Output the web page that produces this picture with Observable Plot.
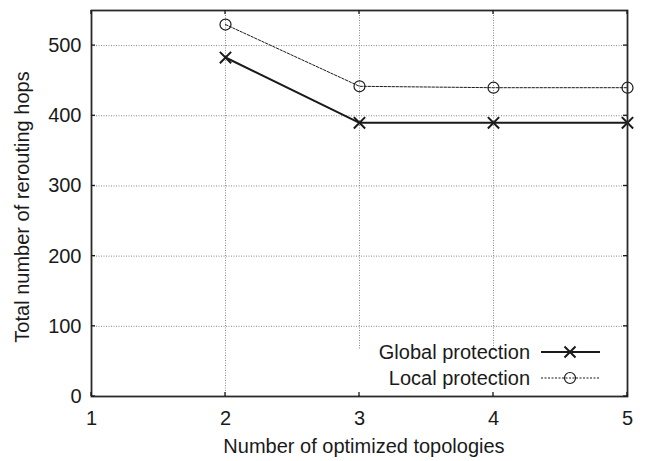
<!DOCTYPE html>
<html>
<head>
<meta charset="utf-8">
<script src="https://cdn.jsdelivr.net/npm/d3@7"></script>
<script src="https://cdn.jsdelivr.net/npm/@observablehq/plot@0.6"></script>
<style>
  html, body { margin: 0; padding: 0; background: #fff; }
  #chart { width: 648px; height: 461px; }
</style>
</head>
<body>
<div id="chart"></div>
<script>
// ---- data ----
const topologies = [2, 3, 4, 5];
const globalHops = [483, 390, 390, 390];
const localHops = [530, 442, 440, 440];
const seriesNames = ["Global protection", "Local protection"];
const xTicks = [1, 2, 3, 4, 5];
const yTicks = [0, 100, 200, 300, 400, 500];
const xGrid = [2, 3, 4];
const yGrid = [100, 200, 300, 400, 500];
const xTitle = "Number of optimized topologies";
const yTitle = "Total number of rerouting hops";

const globalData = topologies.map((t, i) => ({x: t, y: globalHops[i]}));
const localData = topologies.map((t, i) => ({x: t, y: localHops[i]}));

const FONT = "'Liberation Sans', Arial, Helvetica, sans-serif";
const INK = "#1a1a1a";

function sc(s) { return typeof s === "function" ? s : (s && s.apply ? s.apply : (v => v)); }

// legend drawn in a custom render mark
function legendMark(index, scales, values, dim) {
  const W = dim.width, H = dim.height;
  const R = W - dim.marginRight, B = H - dim.marginBottom;
  const g = d3.create("svg:g");
  g.append("rect").attr("x", R - 270).attr("y", B - 46).attr("width", 268).attr("height", 44).attr("fill", "#fff");
  const rows = [
    {name: seriesNames[0], dash: null, w: 2, sym: "times"},
    {name: seriesNames[1], dash: "2,1.5", w: 1, sym: "circle"}
  ];
  rows.forEach((r, i) => {
    const cy = B - 44 + i * 26;
    g.append("text").attr("x", R - 97).attr("y", cy).attr("dy", "0.35em")
      .attr("text-anchor", "end").attr("font-family", FONT).attr("font-size", 20).attr("fill", INK).text(r.name);
    g.append("line").attr("x1", R - 86).attr("x2", R - 27).attr("y1", cy).attr("y2", cy)
      .attr("stroke", INK).attr("stroke-width", r.w).attr("stroke-dasharray", r.dash);
    const mx = R - 57;
    if (r.sym === "times") {
      g.append("path").attr("d", `M${mx-5.5},${cy-5.5}L${mx+5.5},${cy+5.5}M${mx-5.5},${cy+5.5}L${mx+5.5},${cy-5.5}`)
        .attr("stroke", INK).attr("stroke-width", 2).attr("fill", "none");
    } else {
      g.append("circle").attr("cx", mx).attr("cy", cy).attr("r", 5.5).attr("stroke", INK).attr("stroke-width", 1.2).attr("fill", "none");
    }
  });
  return g.node();
}

function titlesAndTicks(index, scales, values, dim) {
  const W = dim.width, H = dim.height;
  const L = dim.marginLeft, R = W - dim.marginRight, T = dim.marginTop, B = H - dim.marginBottom;
  const sx = sc(scales.x), sy = sc(scales.y);
  const g = d3.create("svg:g");
  const tl = 4;
  xTicks.forEach(v => {
    const px = sx(v);
    g.append("line").attr("x1", px).attr("x2", px).attr("y1", B).attr("y2", B - tl).attr("stroke", INK).attr("stroke-width", 1.3);
    g.append("line").attr("x1", px).attr("x2", px).attr("y1", T).attr("y2", T + tl).attr("stroke", INK).attr("stroke-width", 1.3);
  });
  yTicks.forEach(v => {
    const py = sy(v);
    g.append("line").attr("x1", L).attr("x2", L + tl).attr("y1", py).attr("y2", py).attr("stroke", INK).attr("stroke-width", 1.3);
    g.append("line").attr("x1", R).attr("x2", R - tl).attr("y1", py).attr("y2", py).attr("stroke", INK).attr("stroke-width", 1.3);
  });
  g.append("text").attr("x", (L + R) / 2 + 5).attr("y", B + 57).attr("text-anchor", "middle")
    .attr("font-family", FONT).attr("font-size", 20).attr("fill", INK).text(xTitle);
  g.append("text").attr("transform", `translate(29,207) rotate(-90)`).attr("text-anchor", "middle")
    .attr("font-family", FONT).attr("font-size", 20).attr("fill", INK).text(yTitle);
  return g.node();
}

const chart = Plot.plot({
  width: 648,
  height: 461,
  marginLeft: 91,
  marginRight: 21,
  marginTop: 10,
  marginBottom: 65,
  style: {fontFamily: FONT, fontSize: "20px", color: INK, background: "#fff", overflow: "visible"},
  x: {domain: [1, 5], ticks: xTicks, tickFormat: d => String(d), tickSize: 0, tickPadding: 14, label: null},
  y: {domain: [0, 550], ticks: yTicks, tickSize: 0, tickPadding: 10, label: null},
  marks: [
    Plot.ruleY(yGrid, {stroke: "#888", strokeWidth: 1, strokeDasharray: "1,1.5"}),
    Plot.ruleX(xGrid, {stroke: "#888", strokeWidth: 1, strokeDasharray: "1,1.5"}),
    legendMark,
    Plot.line(localData, {x: "x", y: "y", stroke: INK, strokeWidth: 1, strokeDasharray: "2.5,1.5"}),
    Plot.dot(localData, {x: "x", y: "y", r: 5.5, stroke: INK, strokeWidth: 1.2, fill: "none"}),
    Plot.line(globalData, {x: "x", y: "y", stroke: INK, strokeWidth: 2}),
    Plot.dot(globalData, {x: "x", y: "y", symbol: "times", r: 5.2, stroke: INK, strokeWidth: 2}),
    Plot.frame({stroke: "#2a2a2a", strokeWidth: 1.8}),
    titlesAndTicks
  ]
});
document.getElementById("chart").appendChild(chart);
</script>
</body>
</html>
